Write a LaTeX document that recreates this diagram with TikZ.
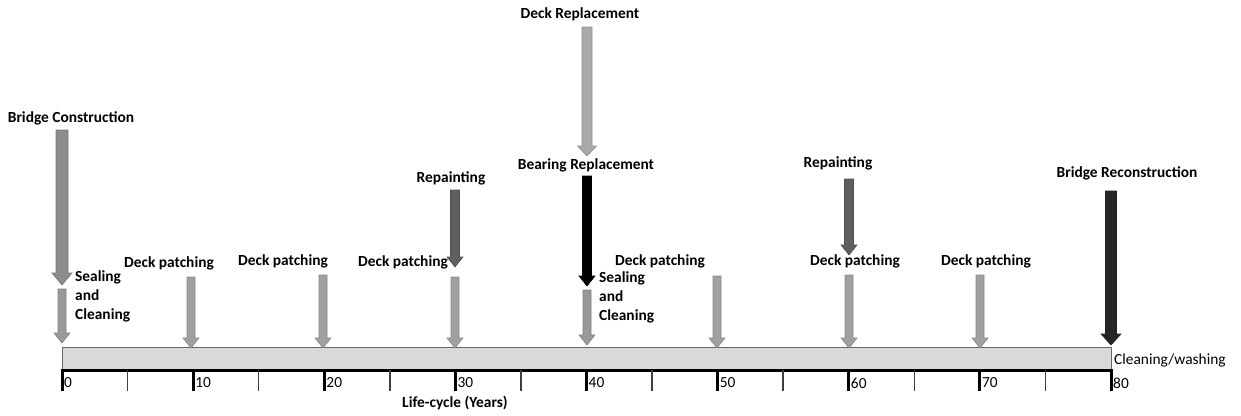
\documentclass[tikz,border=0pt]{standalone}
\usepackage{fontspec}
\setmainfont{Carlito}
\definecolor{cBC}{HTML}{8C8C8C}
\definecolor{cSeal}{HTML}{999999}
\definecolor{cDP}{HTML}{A0A0A0}
\definecolor{cRep}{HTML}{5F5F5F}
\definecolor{cDR}{HTML}{A9A9A9}
\definecolor{cBR}{HTML}{000000}
\definecolor{cRC}{HTML}{262626}
\definecolor{cBar}{HTML}{D9D9D9}
\newcommand\blockarr[7]{%
  \filldraw[fill=#7, draw=#7!85!black, line width=0.6pt]
    ({#1-#4},{#2}) -- ({#1+#4},{#2}) -- ({#1+#4},{#3-#6}) -- ({#1+#5},{#3-#6})
    -- ({#1},{#3}) -- ({#1-#5},{#3-#6}) -- ({#1-#4},{#3-#6}) -- cycle;}
\tikzset{
  lbl/.style={font=\fontsize{15.4}{19}\selectfont\bfseries, inner sep=0pt, align=left},
  nlbl/.style={font=\fontsize{15.4}{19}\selectfont, inner sep=0pt, anchor=west},
}
\begin{document}
\begin{tikzpicture}[x=1pt,y=-1pt]
\useasboundingbox (0,0) rectangle (1241,415);
\fill[white] (0,0) rectangle (1241,415);
% timeline bar
\filldraw[fill=cBar, draw=black!60, line width=1pt] (62,347.5) rectangle (1111,369);
\draw[black, line width=3pt] (62,370) -- (1111,370);
\foreach \k in {0,...,8} {
  \pgfmathsetmacro{\xx}{62+131.125*\k}
  \draw[black, line width=3pt] (\xx,369) -- (\xx,391);
  \pgfmathtruncatemacro{\yr}{10*\k}
  \node[nlbl] (t\k) at ({\xx+2},383) {\yr};
}
\foreach \k in {0,...,7} {
  \pgfmathsetmacro{\xx}{62+131.125*\k+65.56}
  \draw[black!75, line width=1.5pt] (\xx,370) -- (\xx,391);
}
\node[nlbl] (cw) at (1114,360) {Cleaning/washing};
\node[lbl] (lc) at (455,403) {Life-cycle (Years)};
% arrows
\blockarr{62}{130}{285}{6}{10}{12}{cBC}
\blockarr{62}{289}{343}{4}{8}{10}{cSeal}
\blockarr{191}{277}{348}{4}{8}{10}{cDP}
\blockarr{323}{275}{348}{4}{8}{10}{cDP}
\blockarr{455}{277}{348}{4}{8}{10}{cDP}
\blockarr{455}{190}{267}{4.5}{8}{10}{cRep}
\blockarr{587}{27}{156}{5}{9.5}{10}{cDR}
\blockarr{587}{176}{286}{4.5}{8}{10}{cBR}
\blockarr{587}{290}{345}{4}{8}{10}{cSeal}
\blockarr{717}{276}{348}{4}{8}{10}{cDP}
\blockarr{849}{179}{255}{4.5}{8}{10}{cRep}
\blockarr{849}{275}{348}{4}{8}{10}{cDP}
\blockarr{980}{275}{348}{4}{8}{10}{cDP}
\blockarr{1111}{191}{345}{5.5}{10}{11}{cRC}
% labels
\node[lbl] (bc) at (71,118) {Bridge Construction};
\node[lbl, anchor=north west] (sc0) at (75,270) {Sealing\\and\\Cleaning};
\node[lbl] (dp10) at (169,263) {Deck patching};
\node[lbl] (dp20) at (283,261) {Deck patching};
\node[lbl] (dp30) at (403,262) {Deck patching};
\node[lbl] (rp30) at (451,178) {Repainting};
\node[lbl] (dr) at (580,14) {Deck Replacement};
\node[lbl] (br) at (586,165) {Bearing Replacement};
\node[lbl, anchor=north west] (sc40) at (599,271) {Sealing\\and\\Cleaning};
\node[lbl] (dp50) at (660,261) {Deck patching};
\node[lbl] (rp60) at (838,163) {Repainting};
\node[lbl] (dp60) at (855,261) {Deck patching};
\node[lbl] (dp70) at (986,261) {Deck patching};
\node[lbl] (rc) at (1127,173) {Bridge Reconstruction};
\end{tikzpicture}
\end{document}
